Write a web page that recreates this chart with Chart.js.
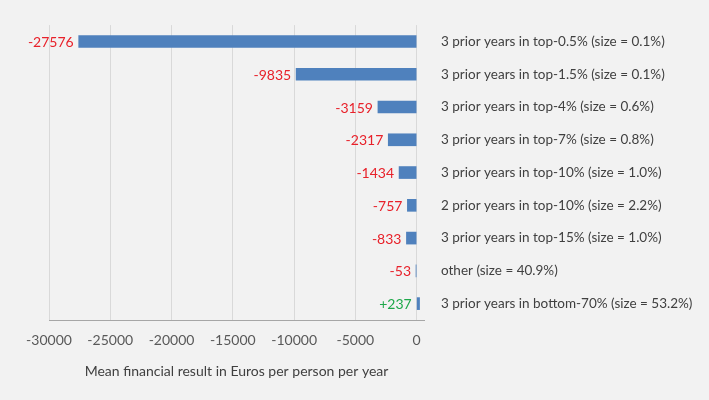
<!DOCTYPE html>
<html>
<head>
<meta charset="utf-8">
<script src="https://cdn.jsdelivr.net/npm/chart.js@4/dist/chart.umd.min.js"></script>
<style>
  html, body { margin: 0; padding: 0; background: #f2f2f2; }
  #wrap { width: 709px; height: 400px; }
</style>
</head>
<body>
<div id="wrap"><canvas id="c" width="709" height="400"></canvas></div>
<script>
const categories = [
  "3 prior years in top-0.5% (size = 0.1%)",
  "3 prior years in top-1.5% (size = 0.1%)",
  "3 prior years in top-4% (size = 0.6%)",
  "3 prior years in top-7% (size = 0.8%)",
  "3 prior years in top-10% (size = 1.0%)",
  "2 prior years in top-10% (size = 2.2%)",
  "3 prior years in top-15% (size = 1.0%)",
  "other (size = 40.9%)",
  "3 prior years in bottom-70% (size = 53.2%)"
];
const meanResult = [-27576, -9835, -3159, -2317, -1434, -757, -833, -53, 237];
const xTicks = [-30000, -25000, -20000, -15000, -10000, -5000, 0];
const axisTitle = "Mean financial result in Euros per person per year";

const FONT = "Lato, 'Liberation Sans', sans-serif";

const bgPlugin = {
  id: 'bg',
  beforeDraw(chart) {
    const ctx = chart.ctx;
    ctx.save();
    ctx.fillStyle = '#f2f2f2';
    ctx.fillRect(0, 0, chart.width, chart.height);
    ctx.restore();
  }
};

const valueLabels = {
  id: 'valueLabels',
  afterDatasetsDraw(chart) {
    const ctx = chart.ctx;
    const meta = chart.getDatasetMeta(0);
    const xs = chart.scales.x;
    const base = xs.getPixelForValue(0);
    ctx.save();
    ctx.font = "14px " + FONT;
    ctx.textAlign = 'right';
    ctx.textBaseline = 'middle';
    meta.data.forEach((el, i) => {
      const v = meanResult[i];
      const left = Math.min(el.x, base);
      ctx.fillStyle = v < 0 ? '#e8212a' : '#1ea84a';
      const txt = v > 0 ? '+' + v : String(v);
      ctx.fillText(txt, left - 5, el.y + 1);
    });
    ctx.restore();
  }
};

new Chart(document.getElementById('c'), {
  type: 'bar',
  data: {
    labels: categories,
    datasets: [{
      data: meanResult,
      backgroundColor: '#4f81bd',
      borderWidth: 0,
      barThickness: 12
    }]
  },
  options: {
    indexAxis: 'y',
    responsive: false,
    animation: false,
    devicePixelRatio: 1,
    layout: { padding: { left: 49, top: 24, right: 0, bottom: 8 } },
    plugins: { legend: { display: false }, tooltip: { enabled: false } },
    scales: {
      x: {
        min: -30000,
        max: 600,
        afterBuildTicks(scale) { scale.ticks = xTicks.map(v => ({ value: v })); },
        afterFit(scale) { scale.height = 72; },
        grid: { color: '#d9d9d9', drawTicks: false, lineWidth: 1 },
        border: { color: '#a6a6a6', width: 1 },
        ticks: {
          color: '#595959',
          font: { family: FONT, size: 14 },
          padding: 12,
          maxRotation: 0,
          autoSkip: false,
          callback: (v) => String(v)
        },
        title: {
          display: true,
          text: axisTitle,
          color: '#404040',
          font: { family: FONT, size: 14 },
          padding: { top: 0, bottom: 12 }
        }
      },
      y: {
        position: 'right',
        afterFit(scale) { scale.width = 285; },
        grid: { display: false, drawTicks: false },
        border: { display: false },
        ticks: {
          color: '#404040',
          font: { family: FONT, size: 13.5 },
          padding: 17,
          autoSkip: false
        }
      }
    }
  },
  plugins: [bgPlugin, valueLabels]
});
</script>
</body>
</html>
